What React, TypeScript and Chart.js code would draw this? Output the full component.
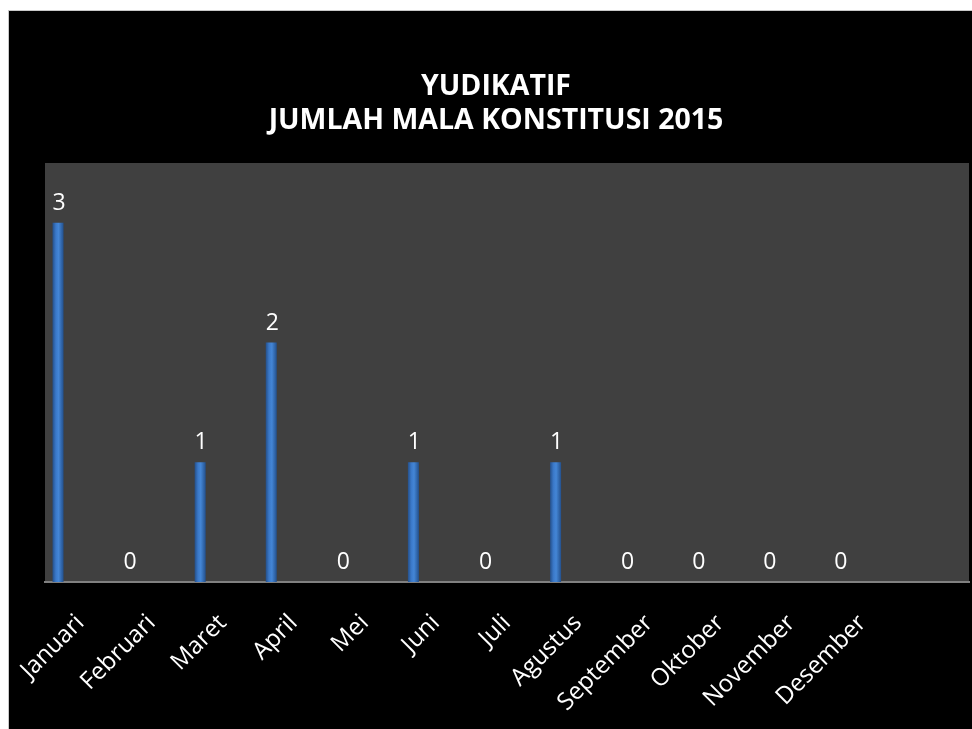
import React, { useEffect, useRef } from "react";
import { Chart, registerables } from "chart.js";

Chart.register(...registerables);

const months = [
  "Januari", "Februari", "Maret", "April", "Mei", "Juni",
  "Juli", "Agustus", "September", "Oktober", "November", "Desember", "",
];
const values = [3, 0, 1, 2, 0, 1, 0, 1, 0, 0, 0, 0, null];
const emptySeries = [null, null, null, null, null, null, null, null, null, null, null, null, null];
const titleLines = ["YUDIKATIF", "JUMLAH MALA KONSTITUSI 2015"];

const FONT = "'Open Sans', Lato, sans-serif";

const plotBg = {
  id: "plotBg",
  beforeDraw(chart: any) {
    const { ctx, chartArea } = chart;
    ctx.save();
    ctx.fillStyle = "#404040";
    ctx.fillRect(chartArea.left, chartArea.top, chartArea.right - chartArea.left, chartArea.bottom - chartArea.top);
    ctx.restore();
  },
};

const valueLabels = {
  id: "valueLabels",
  afterDatasetsDraw(chart: any) {
    const { ctx } = chart;
    const meta = chart.getDatasetMeta(0);
    const data = chart.data.datasets[0].data;
    ctx.save();
    ctx.fillStyle = "#ffffff";
    ctx.font = `23px ${FONT}`;
    ctx.textAlign = "center";
    ctx.textBaseline = "alphabetic";
    meta.data.forEach((el: any, i: number) => {
      const v = data[i];
      if (v === null || v === undefined) return;
      ctx.fillText(String(v), el.x + 1, el.y - 13);
    });
    ctx.restore();
  },
};

function barFill(context: any) {
  const chart = context.chart;
  const meta = chart.getDatasetMeta(0);
  const el = meta.data[context.dataIndex];
  if (!el || !isFinite(el.x) || !el.width) return "#3b78c6";
  const half = el.width / 2;
  const g = chart.ctx.createLinearGradient(el.x - half, 0, el.x + half, 0);
  g.addColorStop(0, "#25508a");
  g.addColorStop(0.3, "#3a78c8");
  g.addColorStop(0.55, "#4486d6");
  g.addColorStop(1, "#23508c");
  return g;
}

export default function App() {
  const ref = useRef<HTMLCanvasElement>(null);
  useEffect(() => {
    if (!ref.current) return;
    const chart = new Chart(ref.current, {
      type: "bar",
      data: {
        labels: months,
        datasets: [
          { data: values, backgroundColor: barFill, borderWidth: 0 },
          { data: emptySeries, backgroundColor: "transparent" },
          { data: emptySeries, backgroundColor: "transparent" },
        ],
      },
      options: {
        responsive: false,
        animation: false,
        datasets: { bar: { categoryPercentage: 0.95, barPercentage: 0.49 } },
        layout: { padding: { top: 59, left: 14, right: 3, bottom: 0 } },
        plugins: {
          legend: { display: false },
          tooltip: { enabled: false },
          title: {
            display: true,
            text: titleLines,
            color: "#ffffff",
            font: { family: FONT, size: 28.5, weight: "bold", lineHeight: 34 / 28.5 },
            padding: { top: 0, bottom: 25 },
          },
        },
        scales: {
          x: {
            grid: { display: false, drawTicks: false },
            border: { display: true, color: "#808080", width: 2 },
            ticks: {
              color: "#ffffff",
              font: { family: FONT, size: 24 },
              minRotation: 45,
              maxRotation: 45,
              padding: 27,
              autoSkip: false,
            },
            afterFit: (s: any) => {
              s.height = 147;
              s.paddingLeft = 0;
              s.paddingRight = 0;
            },
          },
          y: {
            display: true,
            min: 0,
            max: 3.5,
            grid: { display: false, drawTicks: false },
            border: { display: false },
            ticks: { display: false },
            afterFit: (s: any) => {
              s.width = 22;
              s.paddingTop = 0;
              s.paddingBottom = 0;
            },
          },
        },
      },
      plugins: [plotBg, valueLabels],
    });
    chart.update();
    return () => chart.destroy();
  }, []);

  return (
    <div
      style={{
        position: "fixed",
        left: 8,
        top: 10,
        width: 964,
        height: 719,
        boxSizing: "border-box",
        background: "#000",
        borderLeft: "1px solid #c8c8c8",
        borderTop: "1px solid #c8c8c8",
      }}
    >
      <canvas ref={ref} width={963} height={718} style={{ display: "block", width: 963, height: 718 }} />
    </div>
  );
}
